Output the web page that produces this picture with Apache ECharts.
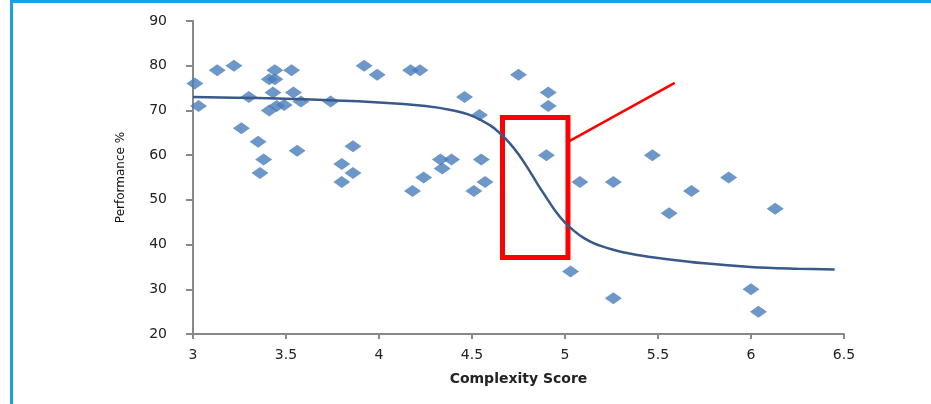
<!DOCTYPE html>
<html>
<head>
<meta charset="utf-8">
<script src="https://cdn.jsdelivr.net/npm/echarts@6/dist/echarts.min.js"></script>
<style>
html,body{margin:0;padding:0;background:#fff;}
#frame{position:absolute;left:10px;top:0;width:921px;height:404px;border-left:3px solid #1ba1e2;border-top:3px solid #1ba1e2;box-sizing:border-box;}
#chart{position:absolute;left:0;top:0;width:931px;height:404px;}
</style>
</head>
<body>
<div id="frame"></div>
<div id="chart"></div>
<script>
// Scatter observations: [complexity score, performance %]
const points = [
  [3.01,76],[3.03,71],[3.13,79],[3.22,80],[3.30,73],[3.26,66],[3.35,63],[3.38,59],[3.36,56],
  [3.44,79],[3.53,79],[3.41,77],[3.44,77],[3.43,74],[3.54,74],[3.41,70],[3.45,71],[3.49,71.2],
  [3.58,72],[3.74,72],[3.56,61],[3.86,62],[3.80,58],[3.86,56],[3.80,54],[3.92,80],[3.99,78],
  [4.17,79],[4.22,79],[4.75,78],[4.91,74],[4.91,71],[4.46,73],[4.54,69],[4.90,60],[4.33,59],
  [4.39,59],[4.34,57],[4.55,59],[4.24,55],[4.18,52],[4.57,54],[4.51,52],[5.08,54],[5.03,34],
  [5.47,60],[5.26,54],[5.68,52],[5.88,55],[5.56,47],[6.13,48],[5.26,28],[6.00,30],[6.04,25]
];
// Fitted trend curve
const curve = [
  [3.0,73.0],[3.5,72.6],[4.0,71.8],[4.25,71.0],[4.4,70.0],[4.5,68.8],[4.6,66.6],[4.65,64.9],
  [4.7,62.8],[4.75,60.2],[4.8,57.1],[4.85,53.7],[4.9,50.5],[4.95,47.4],[5.0,44.9],[5.05,43.0],
  [5.1,41.5],[5.15,40.4],[5.2,39.6],[5.3,38.4],[5.4,37.6],[5.5,37.0],[5.75,35.8],[6.0,35.0],
  [6.25,34.6],[6.45,34.4]
];
// Annotation: highlight box and pointer line (data coordinates)
const boxCorners = [[4.664,68.43],[5.016,37.1]];
const pointerLine = [[5.016,62.95],[5.59,76.15]];
const xTicks = {min:3, max:6.5, interval:0.5};
const yTicks = {min:20, max:90, interval:10};

const chart = echarts.init(document.getElementById('chart'));
const font = 'DejaVu Sans';
chart.setOption({
  animation:false,
  backgroundColor:'transparent',
  grid:{left:193,right:87,top:21,bottom:70,containLabel:false},
  xAxis:{
    type:'value', min:xTicks.min, max:xTicks.max, interval:xTicks.interval,
    name:'Complexity Score', nameLocation:'middle', nameGap:38,
    nameTextStyle:{fontFamily:font,fontSize:14,fontWeight:'bold',color:'#222'},
    axisLine:{show:true,onZero:false,lineStyle:{color:'#888',width:2}},
    axisTick:{show:true,length:5,lineStyle:{color:'#888',width:2}},
    axisLabel:{fontFamily:font,fontSize:14,color:'#222',margin:14},
    splitLine:{show:false}
  },
  yAxis:{
    type:'value', min:yTicks.min, max:yTicks.max, interval:yTicks.interval,
    name:'Performance %', nameLocation:'middle', nameGap:66, nameRotate:90,
    nameTextStyle:{fontFamily:font,fontSize:12,color:'#111'},
    axisLine:{show:true,onZero:false,lineStyle:{color:'#888',width:2}},
    axisTick:{show:true,length:7,lineStyle:{color:'#888',width:2}},
    axisLabel:{fontFamily:font,fontSize:14,color:'#222',margin:26},
    splitLine:{show:false}
  },
  series:[
    {
      type:'scatter', data:points, symbol:'diamond', symbolSize:[17,12],
      itemStyle:{color:'#4a7dbb'}, z:2
    },
    {
      type:'line', data:curve, smooth:0.35, showSymbol:false, symbol:'none',
      lineStyle:{color:'#38598a',width:2.5}, z:3,
      markArea:{
        silent:true,
        itemStyle:{color:'rgba(0,0,0,0)',borderColor:'#ff0000',borderWidth:5},
        data:[[{coord:boxCorners[0]},{coord:boxCorners[1]}]]
      },
      markLine:{
        silent:true, symbol:['none','none'], label:{show:false},
        lineStyle:{color:'#ff0000',width:2.5,type:'solid'},
        data:[[{coord:pointerLine[0]},{coord:pointerLine[1]}]]
      }
    }
  ]
});
</script>
</body>
</html>
